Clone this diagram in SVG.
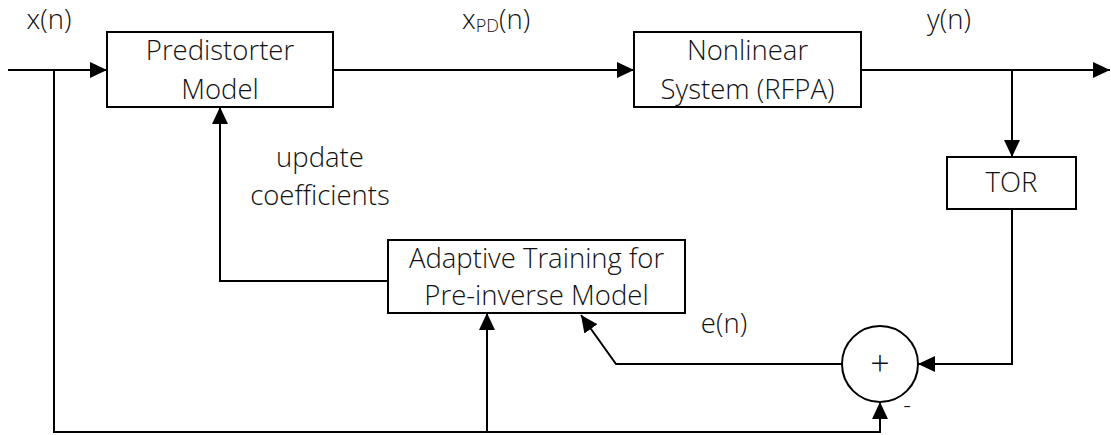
<svg xmlns="http://www.w3.org/2000/svg" width="1111" height="435" viewBox="0 0 1111 435">
  <style>
    .box { fill: #ffffff; stroke: #000000; stroke-width: 2; }
    .wire { fill: none; stroke: #000000; stroke-width: 2; marker-end: url(#head); }
    text { font-family: "Open Sans", "Noto Sans", "DejaVu Sans", sans-serif; font-weight: 300; font-size: 27.5px; fill: #111111; }
    .mid { text-anchor: middle; }
    .plus { font-size: 34px; }
    .minus { font-size: 24px; }
  </style>
  <defs>
    <marker id="head" markerUnits="userSpaceOnUse" markerWidth="18" markerHeight="16" refX="17" refY="8" orient="auto">
      <path d="M0,0 L17,8 L0,16 z" fill="#000000"/>
    </marker>
  </defs>

  <rect width="1111" height="435" fill="#ffffff"/>

  <!-- connectors -->
  <g id="connectors">
    <path class="wire" d="M8,70 H107"/>
    <path class="wire" d="M333,70 H634"/>
    <path class="wire" d="M861,70 H1110"/>
    <path class="wire" d="M1012,70 V157"/>
    <path class="wire" d="M1012,209 V364 H918"/>
    <path class="wire" d="M842,364 H616 L581,315"/>
    <path class="wire" d="M54,70 V432 H880 V402"/>
    <path class="wire" d="M487,432 V313"/>
    <path class="wire" d="M388,281 H220 V107"/>
  </g>

  <!-- signal labels -->
  <g id="labels">
    <text x="49" y="29" class="mid">x(n)</text>
    <text x="462" y="29">x<tspan font-size="18" dy="3">PD</tspan><tspan dy="-3">(n)</tspan></text>
    <text x="949" y="29" class="mid">y(n)</text>
    <text x="320" y="167" class="mid">update</text>
    <text x="320" y="205" class="mid">coefficients</text>
    <text x="724" y="333" class="mid">e(n)</text>
  </g>

  <g id="predistorter">
    <rect class="box" x="107" y="32" width="226" height="75"/>
    <text x="220" y="60" class="mid">Predistorter</text>
    <text x="220" y="99" class="mid">Model</text>
  </g>

  <g id="rfpa">
    <rect class="box" x="634" y="32" width="227" height="75"/>
    <text x="747.5" y="60" class="mid">Nonlinear</text>
    <text x="747.5" y="99" class="mid">System (RFPA)</text>
  </g>

  <g id="tor">
    <rect class="box" x="947" y="157" width="129" height="52"/>
    <text x="1011.5" y="192" class="mid">TOR</text>
  </g>

  <g id="adaptive">
    <rect class="box" x="388" y="240" width="297" height="73"/>
    <text x="536.5" y="268" class="mid">Adaptive Training for</text>
    <text x="536.5" y="305" class="mid">Pre-inverse Model</text>
  </g>

  <g id="sum">
    <circle cx="880" cy="364" r="38" fill="#ffffff" stroke="#000000" stroke-width="2"/>
    <text x="880" y="376" class="mid plus">+</text>
    <text x="907" y="413" class="mid minus">-</text>
  </g>
</svg>
